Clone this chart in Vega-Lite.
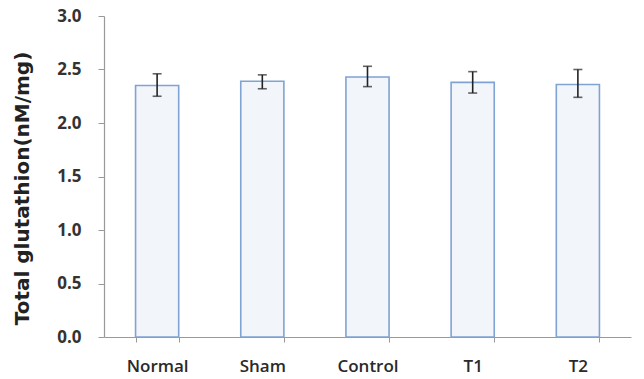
{
  "$schema": "https://vega.github.io/schema/vega-lite/v6.json",
  "autosize": "none",
  "width": 527,
  "height": 321,
  "padding": {"left": 104, "top": 16, "right": 13, "bottom": 42},
  "background": "white",
  "config": {"view": {"stroke": null}},
  "data": {"values": [
    {"group": "Normal", "value": 2.35, "lo": 2.25, "hi": 2.46},
    {"group": "Sham", "value": 2.39, "lo": 2.32, "hi": 2.45},
    {"group": "Control", "value": 2.43, "lo": 2.34, "hi": 2.53},
    {"group": "T1", "value": 2.38, "lo": 2.28, "hi": 2.48},
    {"group": "T2", "value": 2.36, "lo": 2.24, "hi": 2.50}
  ]},
  "encoding": {
    "x": {
      "field": "group", "type": "nominal", "sort": null,
      "scale": {"paddingInner": 0.59, "paddingOuter": 0.3},
      "axis": {
        "title": null, "labelAngle": 0, "labelFont": "Open Sans", "labelFontSize": 17,
        "labelFontWeight": 600, "labelColor": "#2a2a2a", "labelPadding": 16,
        "domainColor": "#999", "tickColor": "#999",
        "tickBand": "extent", "tickSize": 5, "domainWidth": 1.2
      }
    }
  },
  "layer": [
    {
      "mark": {"type": "bar", "fill": "#f2f5fa", "stroke": "#7fa3d3", "strokeWidth": 1.6},
      "encoding": {
        "y": {
          "field": "value", "type": "quantitative",
          "scale": {"domain": [0, 3]},
          "axis": {
            "title": "Total glutathion(nM/mg)", "titleFont": "DejaVu Sans", "titleFontSize": 20,
            "titleFontWeight": "bold", "titleColor": "#222", "titlePadding": 24, "titleY": 172,
            "values": [0, 0.5, 1, 1.5, 2, 2.5, 3], "format": ".1f",
            "labelFont": "Open Sans", "labelFontSize": 17, "labelFontWeight": "bold", "labelColor": "#333",
            "labelPadding": 17, "grid": false, "domainColor": "#999", "tickColor": "#999", "tickSize": 6,
            "domainWidth": 1.2
          }
        }
      }
    },
    {
      "mark": {"type": "rule", "color": "#222", "strokeWidth": 1.6},
      "encoding": {"y": {"field": "lo", "type": "quantitative"}, "y2": {"field": "hi"}}
    },
    {
      "mark": {"type": "tick", "color": "#222", "thickness": 1.6, "size": 9, "orient": "horizontal"},
      "encoding": {"y": {"field": "lo", "type": "quantitative"}}
    },
    {
      "mark": {"type": "tick", "color": "#222", "thickness": 1.6, "size": 9, "orient": "horizontal"},
      "encoding": {"y": {"field": "hi", "type": "quantitative"}}
    }
  ]
}
